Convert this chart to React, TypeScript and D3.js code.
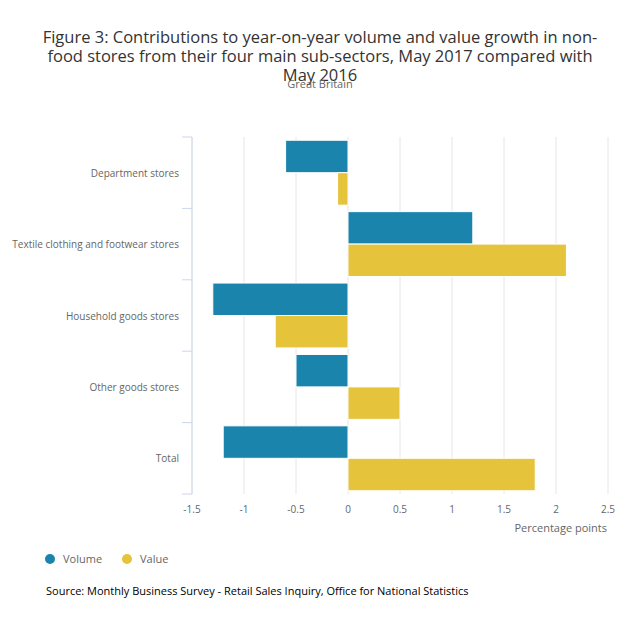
import React from "react";
import * as d3 from "d3";

const categories = [
  "Department stores",
  "Textile clothing and footwear stores",
  "Household goods stores",
  "Other goods stores",
  "Total",
];
const volume = [-0.6, 1.2, -1.3, -0.5, -1.2];
const value = [-0.1, 2.1, -0.7, 0.5, 1.8];
const seriesNames = ["Volume", "Value"];
const seriesColors = ["#1a84ad", "#e5c33a"];
const xTicks = [-1.5, -1, -0.5, 0, 0.5, 1, 1.5, 2, 2.5];

export default function App() {
  const W = 640, H = 632;
  const left = 192, right = 608, top = 137, bottom = 494;
  const x = d3.scaleLinear().domain([-1.5, 2.5]).range([left, right]);
  const y = d3.scaleBand<string>().domain(categories).range([top, bottom]).paddingInner(0).paddingOuter(0);
  const inner = d3.scaleBand<string>().domain(seriesNames).range([0, y.bandwidth()]).paddingOuter(0.1).paddingInner(0);
  const series = [volume, value];
  const font = "'Open Sans', sans-serif";
  const boundaries = categories.map((c) => y(c)!).concat([bottom]);

  return (
    <svg width={W} height={H} style={{ display: "block", position: "absolute", left: 0, top: 0 }} fontFamily={font}>
      <rect width={W} height={H} fill="#fff" />
      <text x={320} textAnchor="middle" fontSize={16.5} fill="#333">
        <tspan x={320} y={43}>Figure 3: Contributions to year-on-year volume and value growth in non-</tspan>
        <tspan x={320} y={62}>food stores from their four main sub-sectors, May 2017 compared with</tspan>
        <tspan x={320} y={81}>May 2016</tspan>
      </text>
      <text x={320} y={88} textAnchor="middle" fontSize={11} fill="#666">Great Britain</text>

      {xTicks.map((t) => (
        <line key={"g" + t} x1={x(t)} x2={x(t)} y1={top} y2={bottom} stroke="#e6e6e6" strokeWidth={1} />
      ))}
      <line x1={left} x2={left} y1={top} y2={bottom} stroke="#ccd6eb" />
      {boundaries.map((b, i) => (
        <line key={"t" + i} x1={left - 10} x2={left} y1={b} y2={b} stroke="#ccd6eb" />
      ))}

      {categories.map((c, i) =>
        series.map((s, j) => {
          const v = s[i];
          const x0 = x(Math.min(0, v));
          const x1 = x(Math.max(0, v));
          return (
            <rect
              key={c + j}
              x={x0}
              y={y(c)! + inner(seriesNames[j])!}
              width={x1 - x0}
              height={inner.bandwidth()}
              fill={seriesColors[j]}
              stroke="#fff"
              strokeWidth={1}
            />
          );
        })
      )}

      {categories.map((c) => (
        <text key={"l" + c} x={179} y={y(c)! + y.bandwidth() / 2 + 4} textAnchor="end" fontSize={10} fill="#666">
          {c}
        </text>
      ))}

      {xTicks.map((t) => (
        <text key={"x" + t} x={x(t)} y={513} textAnchor="middle" fontSize={10} fill="#666">
          {String(t)}
        </text>
      ))}
      <text x={607} y={532} textAnchor="end" fontSize={11} fill="#666">Percentage points</text>

      {seriesNames.map((n, i) => (
        <g key={n} transform={`translate(${[50, 127][i]},559)`}>
          <circle cx={0} cy={0} r={5} fill={seriesColors[i]} />
          <text x={13} y={4} fontSize={11} fill="#666">{n}</text>
        </g>
      ))}
      <text x={46} y={595} fontSize={11} fill="#000">
        Source: Monthly Business Survey - Retail Sales Inquiry, Office for National Statistics
      </text>
    </svg>
  );
}
